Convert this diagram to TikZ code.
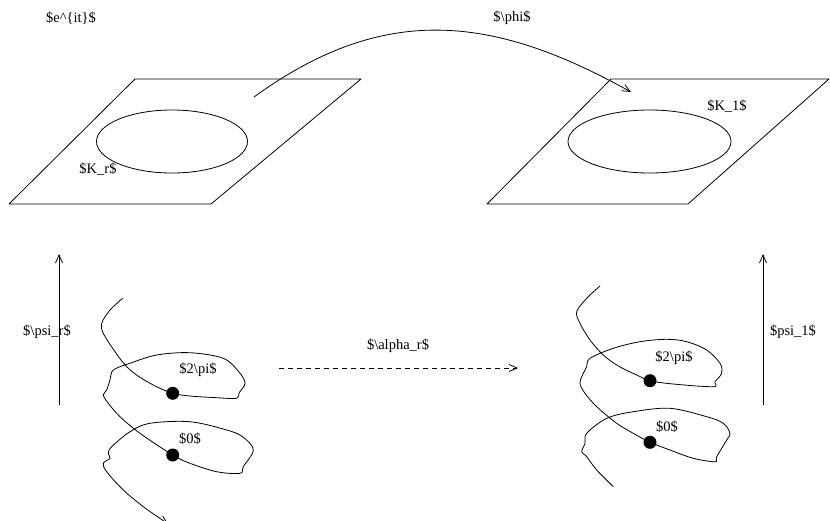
\documentclass[tikz,border=0pt]{standalone}
\usepackage{fontspec}
\setmainfont{Liberation Serif}
\usetikzlibrary{arrows.meta}
\begin{document}
\begin{tikzpicture}[x=1pt,y=-1pt,
  lbl/.style={inner sep=0pt, font=\fontsize{14.5}{17}\selectfont},
  thinline/.style={line width=0.8pt, line join=round},
  dot/.style={circle, fill=black, inner sep=0pt, minimum size=13pt},
  tip/.style={-{Straight Barb[length=8pt,width=7pt,line width=0.8pt]}}]
\useasboundingbox (0,0) rectangle (830,520);
\clip (0,0) rectangle (830,520);
% planes
\draw[thinline] (135,79) -- (361,79) -- (211,204) -- (9,204) -- cycle;
\draw[thinline] (172,141.5) ellipse [x radius=75.5, y radius=31.5];
\draw[thinline] (611,79) -- (829,79) -- (688,204) -- (487,204) -- cycle;
\draw[thinline] (649.5,141.5) ellipse [x radius=81.5, y radius=31.5];
% labels
\node[lbl] (eit) at (71,18) {\$e\textasciicircum\{it\}\$};
\node[lbl] (phi) at (512,18) {\$\textbackslash phi\$};
\node[lbl] (Kr) at (98,169) {\$K\_r\$};
\node[lbl] (K1) at (727,106) {\$K\_1\$};
\node[lbl] (psir) at (47,332) {\$\textbackslash psi\_r\$};
\node[lbl] (psi1) at (793,332) {\$psi\_1\$};
\node[lbl] (alphar) at (398,346) {\$\textbackslash alpha\_r\$};
\node[lbl] (tpL) at (198,370) {\$2\textbackslash pi\$};
\node[lbl] (zL) at (190,439) {\$0\$};
\node[lbl] (tpR) at (674,358) {\$2\textbackslash pi\$};
\node[lbl] (zR) at (667,427) {\$0\$};
% phi arc
\coordinate (phiS) at (254,97);
\coordinate (phiE) at (631,92);
\draw[thinline, tip] (phiS) .. controls (383,3.5) and (491,14) .. (phiE);
% vertical arrows
\coordinate (psiLb) at (59,405);
\coordinate (psiLt) at (59,254);
\draw[thinline, tip] (psiLb) -- (psiLt);
\coordinate (psiRb) at (763,405);
\coordinate (psiRt) at (763,254);
\draw[thinline, tip] (psiRb) -- (psiRt);
% dashed arrow
\coordinate (alS) at (279,368);
\coordinate (alE) at (518,368);
\draw[thinline, dashed, dash pattern=on 5pt off 4pt, tip] (alS) -- (alE);
% dots
\node[dot] (dL2) at (172.7,393.3) {};
\node[dot] (dL0) at (172.7,455) {};
\node[dot] (dR2) at (650,380.7) {};
\node[dot] (dR0) at (650,442.3) {};
% left spiral
\draw[thinline] plot[smooth, tension=0.55] coordinates {
 (122.7,298.3) (110,310) (101.7,323.3) (103.3,333.3) (115,351.7) (126.7,366.7)
 (140,377.3) (156.7,386.7) (dL2.center) (190,396) (216.7,397.7) (236.7,398.3)
 (239,393) (245,383.3) (239,372) (223.3,358.3) (190,352.7) (156.7,355)
 (130,363.3) (113.3,370) (110,380) (106.7,390) (103.3,395) (108.3,403.3)
 (120,416.7) (140,433.3) (dL0.center) (190,463.3) (216.7,471.7) (240,473.3)
 (243.3,466.7) (253.3,450) (243,437) (226.7,430) (190,421.7) (150,423.3)
 (130,431.7) (111.7,446.7) (108.3,453.3) (110,458.3) (103.3,463.3) (106.7,471.7)
 (123.3,490) (143.3,506.7) (158,517)};
\coordinate (tailS) at (158,517);
\coordinate (tailE) at (168,524);
\draw[thinline, tip] (tailS) -- (tailE);
% right spiral
\draw[thinline] plot[smooth, tension=0.55] coordinates {
 (600,286) (586.7,298.3) (576.7,311.7) (580,323.3) (590,340) (603.3,355)
 (618.3,366) (636.7,375) (dR2.center) (673.3,384) (713.3,386.7) (715,381.7)
 (721.7,373.3) (720,363.3) (706.7,350) (686.7,341.7) (666.7,339.3) (640,341.7)
 (613.3,348.3) (590,358.3) (586.7,366.7) (583.3,373.3) (580,383.3) (585,393.3)
 (596.7,406.7) (616.7,423.3) (633.3,433.3) (dR0.center) (670,450) (693.3,458.3)
 (715,461.7) (716.7,456.7) (726.7,440) (730,433.3) (723.3,423.3) (706.7,416.7)
 (670,408.3) (633.3,411.7) (606.7,418.3) (586.7,433.3) (585,443.3) (581.7,451.7)
 (586.7,456.7) (596.7,470) (613.3,486.7)};
\end{tikzpicture}
\end{document}
